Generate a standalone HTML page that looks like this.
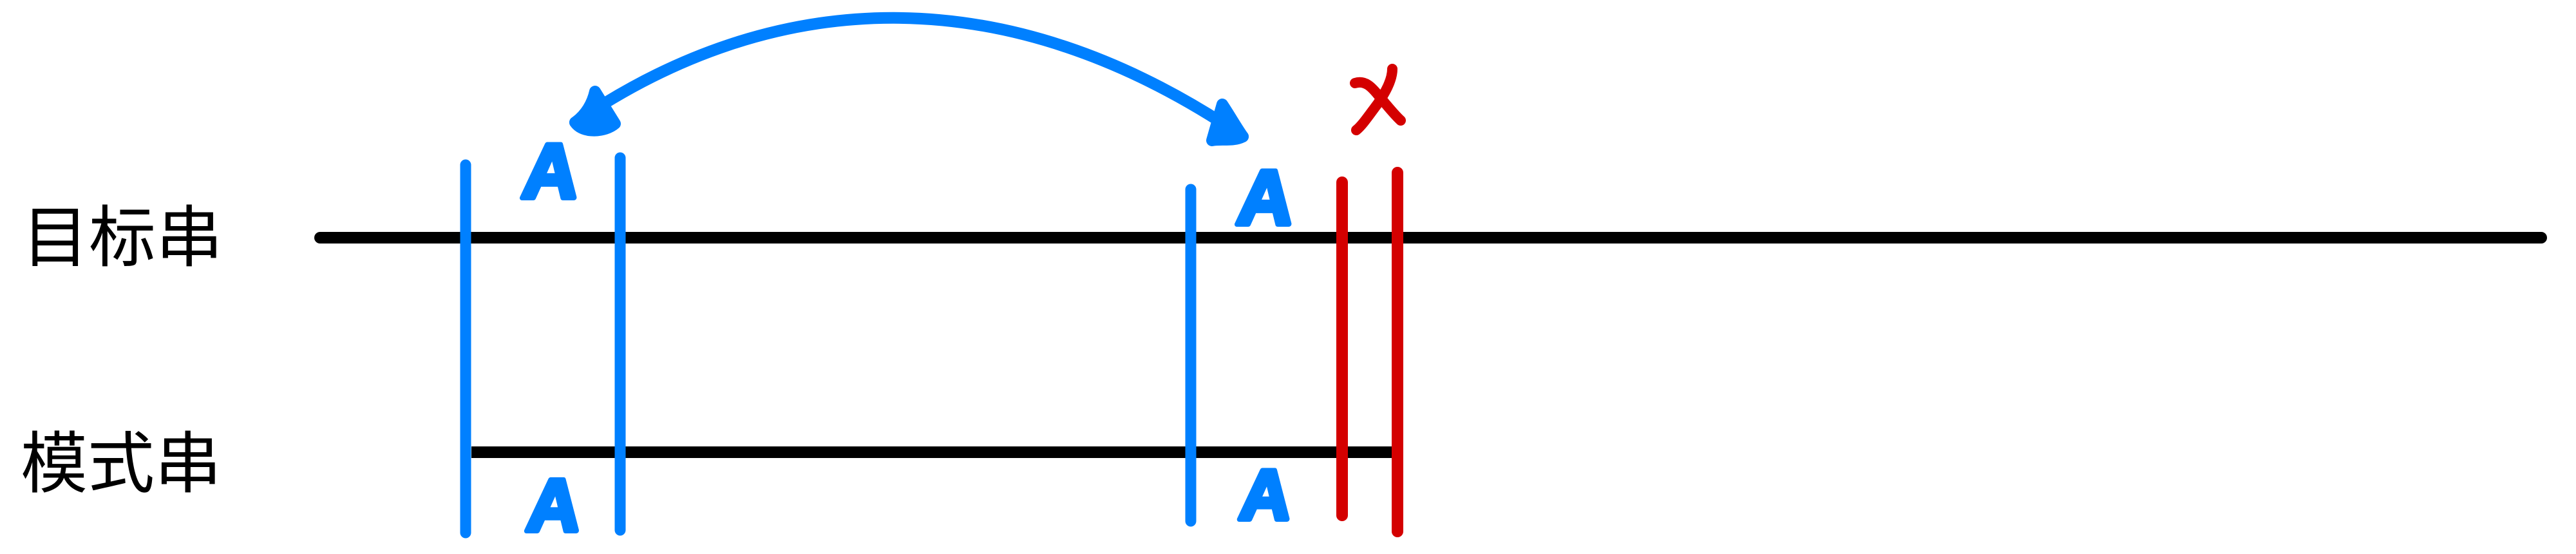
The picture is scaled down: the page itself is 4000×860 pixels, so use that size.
<!DOCTYPE html>
<html><head><meta charset="utf-8"><style>
html,body{margin:0;padding:0;background:#fff;}
svg{display:block;}
</style></head><body>
<svg width="4000" height="860" viewBox="0 0 4000 860" xmlns="http://www.w3.org/2000/svg">
  <text x="34" y="405" font-family="'Liberation Sans','Noto Sans CJK SC',sans-serif" font-size="104" fill="#000">目标串</text>
  <text x="32" y="756" font-family="'Liberation Sans','Noto Sans CJK SC',sans-serif" font-size="104" fill="#000">模式串</text>

  <line x1="497" y1="369" x2="3946" y2="369" stroke="#000" stroke-width="18" stroke-linecap="round"/>
  <line x1="732" y1="702" x2="2162" y2="702" stroke="#000" stroke-width="18"/>

  <line x1="723" y1="256" x2="723" y2="827" stroke="#0080ff" stroke-width="17" stroke-linecap="round"/>
  <line x1="963" y1="245" x2="963" y2="823" stroke="#0080ff" stroke-width="17" stroke-linecap="round"/>
  <line x1="1849" y1="294" x2="1849" y2="809" stroke="#0080ff" stroke-width="17" stroke-linecap="round"/>
  <line x1="2084" y1="283" x2="2084" y2="800" stroke="#d40000" stroke-width="18" stroke-linecap="round"/>
  <line x1="2170" y1="268" x2="2170" y2="825" stroke="#d40000" stroke-width="18" stroke-linecap="round"/>

  <g stroke="#0080ff" stroke-width="18" stroke-linecap="round" stroke-linejoin="round">
    <path fill="none" d="M893,190 C1200,-20 1560,-40 1930,212"/>
    <path fill="#0080ff" d="M924,142 C920,160 910,178 893,190 C905,208 940,205 955,192 Z"/>
    <path fill="#0080ff" d="M1898,162 C1910,180 1920,198 1930,212 C1915,220 1895,215 1882,218 Z"/>
  </g>

  <g fill="none" stroke="#d40000" stroke-width="16" stroke-linecap="round">
    <path d="M2104,129 C2120,124 2130,135 2142,150 C2155,165 2165,178 2175,187"/>
    <path d="M2162,107 C2162,125 2150,145 2140,160 C2125,180 2115,195 2106,202"/>
  </g>

  <g font-family="'Liberation Sans',sans-serif" font-weight="bold" fill="#0080ff" stroke="#0080ff" stroke-width="8" stroke-linejoin="round" font-size="120">
    <text x="808" y="307" transform="skewX(-6)" transform-origin="848 307">A</text>
    <text x="1918" y="348" transform="skewX(-6)" transform-origin="1960 348">A</text>
    <text x="815" y="824" font-size="115" transform="skewX(-6)" transform-origin="855 824">A</text>
    <text x="1922" y="806" font-size="110" transform="skewX(-6)" transform-origin="1962 806">A</text>
  </g>
</svg>
</body></html>
